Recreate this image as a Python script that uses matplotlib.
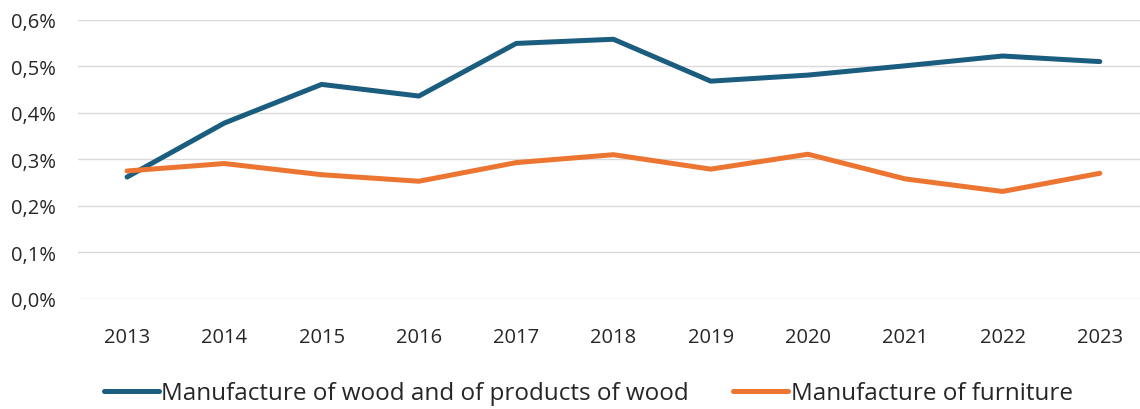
import matplotlib
matplotlib.use("Agg")
import matplotlib.pyplot as plt
from matplotlib.ticker import FuncFormatter

years = ["2013", "2014", "2015", "2016", "2017", "2018", "2019", "2020", "2021", "2022", "2023"]
wood = [0.262, 0.378, 0.461, 0.436, 0.549, 0.558, 0.468, 0.481, 0.501, 0.522, 0.510]
furniture = [0.275, 0.291, 0.267, 0.253, 0.293, 0.310, 0.279, 0.311, 0.258, 0.231, 0.270]
y_ticks = [0.0, 0.1, 0.2, 0.3, 0.4, 0.5, 0.6]
series_names = ["Manufacture of wood and of products of wood", "Manufacture of furniture"]

plt.rcParams["font.family"] = ["Open Sans", "DejaVu Sans"]

fig = plt.figure(figsize=(11.4, 4.1), dpi=100)
ax = fig.add_axes([0.0688, 0.2683, 0.9386, 0.6812])

x = list(range(len(years)))
ax.plot(x, wood, color="#1b5d7e", lw=3.6, solid_capstyle="round", solid_joinstyle="round",
        label=series_names[0])
ax.plot(x, furniture, color="#ec7532", lw=3.6, solid_capstyle="round", solid_joinstyle="round",
        label=series_names[1])

ax.set_xlim(-0.5, len(years) - 0.5)
ax.set_ylim(0, 0.6)
ax.set_yticks(y_ticks)
ax.yaxis.set_major_formatter(FuncFormatter(lambda v, p: f"{v:.1f}%".replace(".", ",")))
ax.set_xticks(x)
ax.set_xticklabels(years)
ax.grid(axis="y", color="#d9d9d9", lw=1.0)
ax.set_axisbelow(True)
for s in ax.spines.values():
    s.set_visible(False)
ax.tick_params(axis="both", length=0, labelsize=14.5, colors="#262626")
ax.tick_params(axis="x", pad=20)
ax.tick_params(axis="y", pad=16)

leg = fig.legend(loc="center", bbox_to_anchor=(0.516, 0.039), ncol=2, frameon=False,
                 fontsize=17.5, handlelength=2.26, handletextpad=0.12, columnspacing=1.8)
for t in leg.get_texts():
    t.set_color("#262626")

fig.savefig("out.png", dpi=100)
